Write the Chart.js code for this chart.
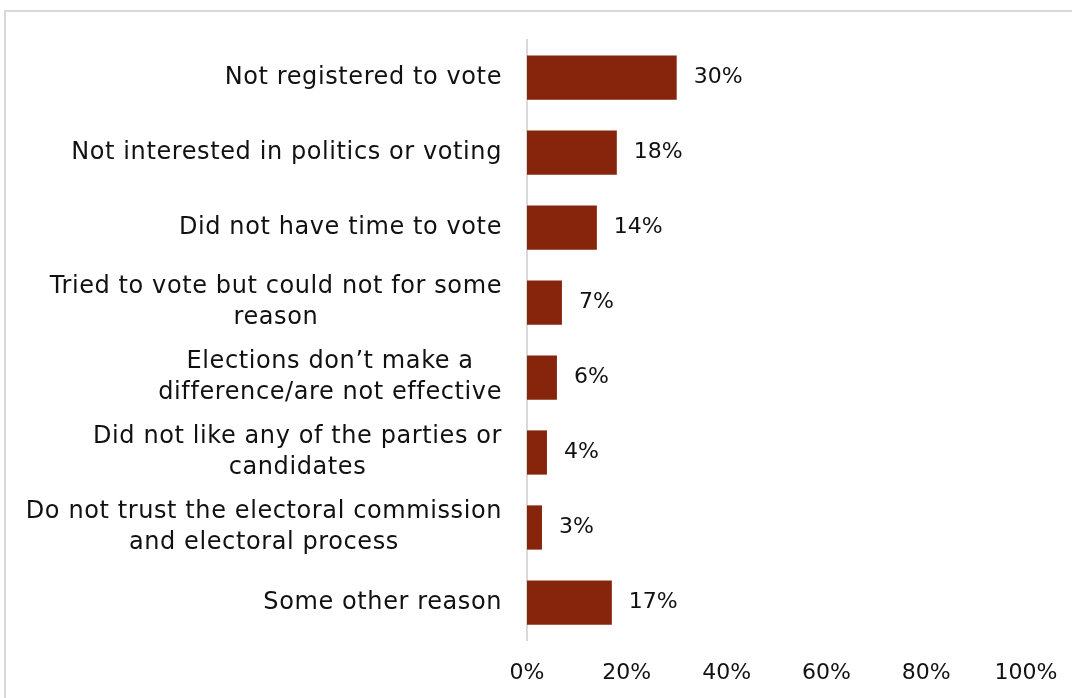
<!DOCTYPE html>
<html>
<head>
<meta charset="utf-8">
<script src="https://cdn.jsdelivr.net/npm/chart.js@4.4.1/dist/chart.umd.min.js"></script>
<style>
  html, body { margin: 0; padding: 0; background: #fff; overflow: hidden; }
  #frame { position: absolute; left: 4px; top: 10px; width: 1200px; height: 800px; border: 2px solid #d9d9d9; }
  #wrap { position: absolute; left: 0; top: 0; width: 1072px; height: 698px; }
</style>
</head>
<body>
<div id="frame"></div>
<div id="wrap"><canvas id="grafico"></canvas></div>
<script>
const razones = [
    ['Not registered to vote'],
    ['Not interested in politics or voting'],
    ['Did not have time to vote'],
    ['Tried to vote but could not for some', 'reason'],
    ['Elections don\u2019t make a', 'difference/are not effective'],
    ['Did not like any of the parties or', 'candidates'],
    ['Do not trust the electoral commission', 'and electoral process'],
    ['Some other reason']
];
const porcentajes = [30, 18, 14, 7, 6, 4, 3, 17];
const ticksX = [0, 20, 40, 60, 80, 100];

const fuente = 'DejaVu Sans';
const colorTexto = '#111';

// etiquetas del eje y: lineas centradas entre si, bloque alineado a la derecha
const etiquetasY = {
    id: 'etiquetasY',
    afterDraw(chart) {
        const ctx = chart.ctx;
        const y = chart.scales.y;
        const derecha = y.right - 25;
        const alto = 31;
        ctx.save();
        ctx.font = '24px "' + fuente + '"';
        ctx.letterSpacing = '0.6px';
        ctx.fillStyle = colorTexto;
        ctx.textAlign = 'center';
        ctx.textBaseline = 'middle';
        razones.forEach((lineas, i) => {
            const ancho = Math.max(...lineas.map(l => ctx.measureText(l).width));
            const cx = derecha - ancho / 2;
            const cy = y.getPixelForValue(i);
            const inicio = cy - (lineas.length - 1) * alto / 2;
            lineas.forEach((l, j) => ctx.fillText(l, cx, inicio + j * alto));
        });
        ctx.restore();
    }
};

// valores a la derecha de cada barra
const valores = {
    id: 'valores',
    afterDatasetsDraw(chart) {
        const ctx = chart.ctx;
        const meta = chart.getDatasetMeta(0);
        ctx.save();
        ctx.font = '22px "' + fuente + '"';
        ctx.fillStyle = colorTexto;
        ctx.textAlign = 'left';
        ctx.textBaseline = 'middle';
        meta.data.forEach((barra, i) => {
            ctx.fillText(porcentajes[i] + '%', barra.x + 17, barra.y);
        });
        ctx.restore();
    }
};

new Chart(document.getElementById('grafico'), {
    type: 'bar',
    data: {
        labels: razones,
        datasets: [{
            data: porcentajes,
            backgroundColor: '#86250c',
            borderWidth: 0,
            barPercentage: 0.59,
            categoryPercentage: 1
        }]
    },
    options: {
        indexAxis: 'y',
        responsive: true,
        maintainAspectRatio: false,
        animation: false,
        layout: { padding: { top: 40, right: 46, left: 0, bottom: 0 } },
        plugins: {
            legend: { display: false },
            tooltip: { enabled: false }
        },
        scales: {
            x: {
                min: 0,
                max: 100,
                afterBuildTicks(scale) {
                    scale.ticks = ticksX.map(v => ({ value: v }));
                },
                afterFit(scale) {
                    scale.height = 58;
                    scale.paddingLeft = 0;
                    scale.paddingRight = 0;
                },
                grid: { display: false, drawTicks: false },
                border: { display: false },
                ticks: {
                    padding: 20,
                    color: colorTexto,
                    font: { family: fuente, size: 22 },
                    callback: v => v + '%'
                }
            },
            y: {
                afterFit(scale) { scale.width = 527; },
                grid: { display: false, drawTicks: false },
                border: { display: true, color: '#d9d9d9', width: 2 },
                ticks: { display: false }
            }
        }
    },
    plugins: [etiquetasY, valores]
});
</script>
</body>
</html>
